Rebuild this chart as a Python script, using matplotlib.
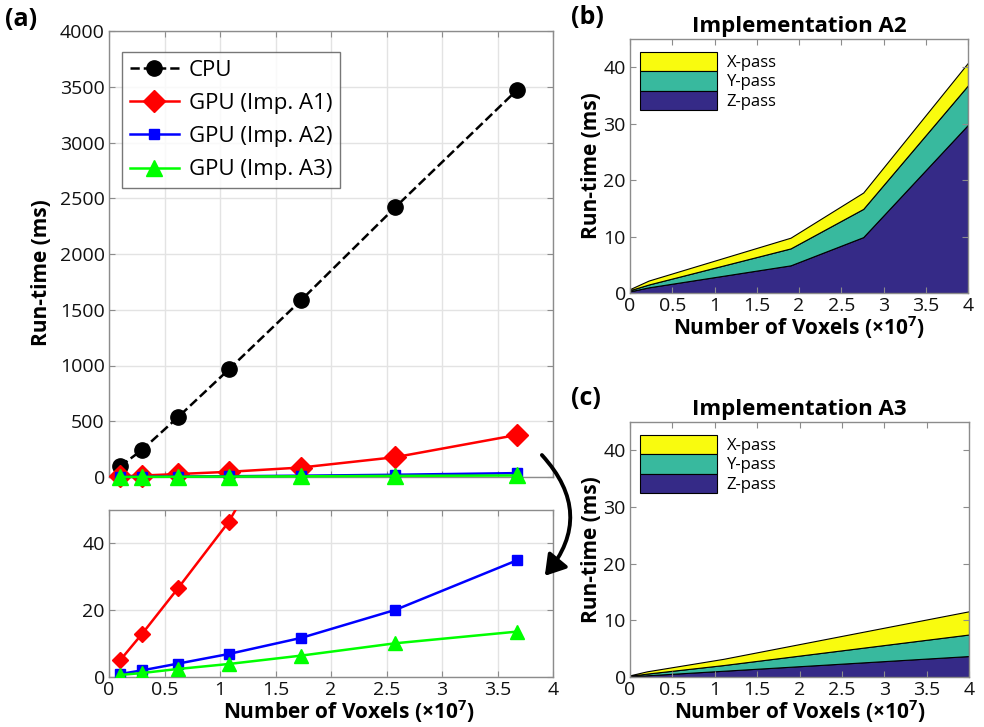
import matplotlib
matplotlib.use("Agg")
import matplotlib.pyplot as plt
from matplotlib.patches import FancyArrowPatch
import numpy as np

plt.rcParams['font.family'] = ['Open Sans', 'DejaVu Sans']
plt.rcParams['mathtext.fontset'] = 'custom'
plt.rcParams['mathtext.rm'] = 'Open Sans'
plt.rcParams['mathtext.bf'] = 'Open Sans:bold'

# ---- data (a) ----
voxels = [0.1, 0.3, 0.62, 1.08, 1.73, 2.58, 3.68]
cpu = [95, 245, 535, 965, 1585, 2420, 3475]
gpu_a1 = [5, 13, 26.5, 46.5, 85, 178, 378]
gpu_a2 = [0.9, 2.0, 4.0, 6.9, 11.7, 20.1, 35.0]
gpu_a3 = [0.6, 1.2, 2.4, 3.9, 6.4, 10.1, 13.6]
series_labels = ['CPU', 'GPU (Imp. A1)', 'GPU (Imp. A2)', 'GPU (Imp. A3)']

# ---- data (b) Implementation A2 ----
x_b = [0, 0.22, 1.9, 2.76, 4]
z_b = [0.3, 1.0, 4.9, 9.9, 29.8]
y_b = [0.2, 0.5, 3.0, 5.0, 7.0]
xp_b = [0.2, 0.7, 1.9, 2.9, 4.0]

# ---- data (c) Implementation A3 ----
x_c = [0, 0.2, 1.1, 4]
z_c = [0.1, 0.3, 1.1, 3.7]
y_c = [0.1, 0.3, 1.0, 3.8]
xp_c = [0.1, 0.4, 1.1, 4.1]

pass_labels = ['X-pass', 'Y-pass', 'Z-pass']
pass_colors = ['#F9FB0E', '#38B99E', '#352A87']

W, H = 984, 727
fig = plt.figure(figsize=(W / 100, H / 100), dpi=100)

def ax_px(left, top, right, bottom):
    return fig.add_axes([left / W, 1 - bottom / H, (right - left) / W, (bottom - top) / H])

spine_col = '#8c8c8c'
grid_col = '#e3e3e3'
tick_fs = 14
lab_fs = 15

def style(ax, grid=True):
    for s in ax.spines.values():
        s.set_color(spine_col)
        s.set_linewidth(1.0)
    ax.tick_params(direction='in', top=True, right=True, color=spine_col,
                   labelsize=tick_fs, labelcolor='#111111', length=4, pad=3)
    if grid:
        ax.grid(True, color=grid_col, linewidth=1.0)
        ax.set_axisbelow(True)

# ---- (a) top ----
axt = ax_px(109, 31, 553, 477)
style(axt)
l1, = axt.plot(voxels, cpu, '--', color='black', lw=1.8, marker='o', ms=11, clip_on=False, zorder=3)
l2, = axt.plot(voxels, gpu_a1, '-', color='#FF0000', lw=1.8, marker='D', ms=11, clip_on=False, zorder=3)
l3, = axt.plot(voxels, gpu_a2, '-', color='#0000FF', lw=1.8, marker='s', ms=7.5, clip_on=False, zorder=3)
l4, = axt.plot(voxels, gpu_a3, '-', color='#00FF00', lw=1.8, marker='^', ms=12, clip_on=False, zorder=3)
axt.set_xlim(0, 4)
axt.set_ylim(0, 4000)
axt.set_xticks(np.arange(0, 4.01, 0.5))
axt.set_xticklabels([])
axt.set_yticks(np.arange(0, 4001, 500))
leg = axt.legend([l1, l2, l3, l4], series_labels, loc='upper left',
                 bbox_to_anchor=((122 - 109) / 444, 1 - (52 - 31) / 446), fontsize=16, frameon=True,
                 fancybox=False, edgecolor='#555555', handlelength=2.2,
                 labelspacing=0.55, borderpad=0.35, handletextpad=0.45, borderaxespad=0)
leg.get_frame().set_linewidth(1.0)

# ---- (a) bottom ----
axb = ax_px(109, 510, 553, 677)
style(axb)
axb.plot(voxels, gpu_a1, '-', color='#FF0000', lw=1.8, marker='D', ms=8.5, zorder=3)
axb.plot(voxels, gpu_a2, '-', color='#0000FF', lw=1.8, marker='s', ms=7, zorder=3)
axb.plot(voxels, gpu_a3, '-', color='#00FF00', lw=1.8, marker='^', ms=10.5, zorder=3)
axb.set_xlim(0, 4)
axb.set_ylim(0, 50)
axb.set_xticks(np.arange(0, 4.01, 0.5))
axb.set_xticklabels(['0', '0.5', '1', '1.5', '2', '2.5', '3', '3.5', '4'])
axb.set_yticks([0, 20, 40])
fig.text(349 / W, 1 - 712 / H, r'Number of Voxels (×10$^{\mathbf{7}}$)', ha='center', va='center',
         fontsize=lab_fs, fontweight='bold')
fig.text(42 / W, 1 - 273 / H, 'Run-time (ms)', ha='center', va='center', rotation=90,
         fontsize=lab_fs, fontweight='bold')

# ---- (b) and (c) ----
def stack_panel(ax, x, z, y, xp, title):
    style(ax, grid=False)
    polys = ax.stackplot(x, z, y, xp, colors=pass_colors[::-1],
                         edgecolor='#333333', linewidth=0.8)
    ax.set_xlim(0, 4)
    ax.set_ylim(0, 45)
    ax.set_xticks(np.arange(0, 4.01, 0.5))
    ax.set_xticklabels(['0', '0.5', '1', '1.5', '2', '2.5', '3', '3.5', '4'])
    ax.set_yticks([0, 10, 20, 30, 40])
    ax.set_title(title, fontsize=16, fontweight='bold', pad=5)
    ax.set_xlabel(r'Number of Voxels (×10$^{\mathbf{7}}$)', fontsize=lab_fs, fontweight='bold', labelpad=-1)
    ax.set_ylabel('Run-time (ms)', fontsize=lab_fs, fontweight='bold', labelpad=1)
    handles = polys[::-1]
    for p in handles:
        p.set_edgecolor('black')
    lg = ax.legend(handles, pass_labels, loc='upper left',
                   bbox_to_anchor=((640 - 630) / 338, 1 - (52 - 39) / 254),
                   frameon=False, fontsize=12, handlelength=4.6, handleheight=1.4,
                   labelspacing=0.0, handletextpad=0.6, borderpad=0.0, borderaxespad=0)
    return lg

axB = ax_px(630, 39, 968, 293)
stack_panel(axB, x_b, z_b, y_b, xp_b, 'Implementation A2')
axC = ax_px(630, 422, 969, 677)
stack_panel(axC, x_c, z_c, y_c, xp_c, 'Implementation A3')

# panel labels
fig.text(5 / W, 1 - 20 / H, '(a)', fontsize=18, fontweight='bold', va='center', ha='left')
fig.text(571 / W, 1 - 17 / H, '(b)', fontsize=18, fontweight='bold', va='center', ha='left')
fig.text(571 / W, 1 - 398 / H, '(c)', fontsize=18, fontweight='bold', va='center', ha='left')

# curved arrow
arr = FancyArrowPatch((540 / W, 1 - 453 / H), (543 / W, 1 - 578 / H),
                      transform=fig.transFigure, connectionstyle='arc3,rad=-0.45',
                      arrowstyle='-|>,head_length=8,head_width=5', color='black', lw=2.8,
                      mutation_scale=1.5)
fig.patches.append(arr)

fig.savefig('out.png', dpi=100)
